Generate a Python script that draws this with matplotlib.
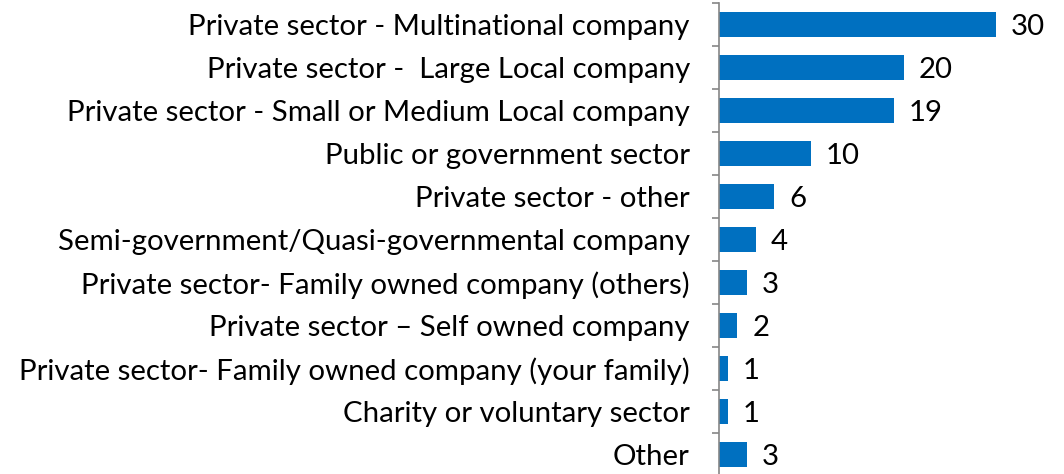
import matplotlib
matplotlib.use('Agg')
import matplotlib.pyplot as plt
import numpy as np

plt.rcParams['font.family'] = ['Lato', 'DejaVu Sans']

categories = [
    'Private sector - Multinational company',
    'Private sector -  Large Local company',
    'Private sector - Small or Medium Local company',
    'Public or government sector',
    'Private sector - other',
    'Semi-government/Quasi-governmental company',
    'Private sector- Family owned company (others)',
    'Private sector \u2013 Self owned company',
    'Private sector- Family owned company (your family)',
    'Charity or voluntary sector',
    'Other',
]
values = [30, 20, 19, 10, 6, 4, 3, 2, 1, 1, 3]

bar_color = '#0070C0'
axis_color = '#868686'
fs = 21.2

fig = plt.figure(figsize=(10.64, 4.74), dpi=100)
ax = fig.add_axes([719 / 1064, -2 / 474, 345 / 1064, 473 / 474])

y = np.arange(len(categories))
ax.barh(y, values, height=0.56, color=bar_color)
ax.set_ylim(len(categories) - 0.5, -0.5)
ax.set_xlim(0, 345 / 9.23)

for yi, v in zip(y, values):
    ax.text(v + 1.6, yi + 0.06, str(v), va='center', ha='left', fontsize=fs, color='black')

ax.set_yticks(y)
ax.set_yticklabels(categories, fontsize=fs)
ax.tick_params(axis='y', which='major', length=0, pad=21)
ax.set_yticks(np.arange(-0.5, len(categories), 1), minor=True)
ax.tick_params(axis='y', which='minor', length=5, width=1.2, color=axis_color, direction='out')

ax.set_xticks([])
for s in ['top', 'right', 'bottom']:
    ax.spines[s].set_visible(False)
ax.spines['left'].set_color(axis_color)
ax.spines['left'].set_linewidth(1.2)

fig.savefig('out.png', dpi=100)
